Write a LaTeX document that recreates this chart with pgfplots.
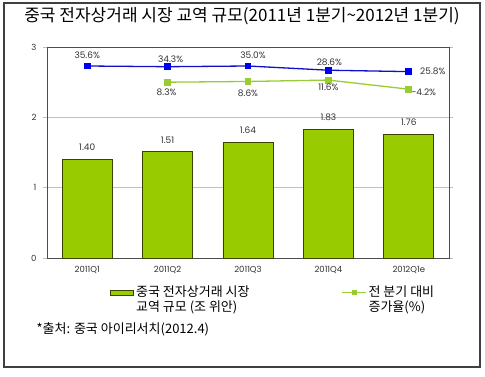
\documentclass[border=0pt]{standalone}
\usepackage{pgfplots}
\pgfplotsset{compat=1.18}
\usepackage{fontspec}
\setmainfont{Noto Sans CJK KR}
\newfontfamily\numfont{Poppins}
\definecolor{barg}{HTML}{99CC00}
\definecolor{bardk}{HTML}{3A4400}
\definecolor{lineb}{HTML}{1010C8}
\definecolor{markb}{HTML}{0000F0}
\definecolor{lineg}{HTML}{99CC33}
\pgfplotsset{
  barleg/.style={legend image code/.code={\draw[##1] (0pt,3.5pt) rectangle (23pt,8.5pt);}},
  lineleg/.style={legend image code/.code={\draw[mark repeat=2,mark phase=2,##1,mark size=2pt,line width=1pt] plot coordinates {(0pt,6pt)(12pt,6pt)(24pt,6pt)};}},
}
\begin{document}
\begin{tikzpicture}[x=1pt,y=1pt]
\useasboundingbox (0,0) rectangle (485,-376);
\draw[line width=1.2pt, black!75] (4,-3) rectangle (480,-367);
\node[font=\fontsize{17}{19}\selectfont] at (242,-16) {중국 전자상거래 시장 교역 규모(2011년 1분기\textasciitilde 2012년 1분기)};
\node[anchor=west, font=\fontsize{13}{15}\selectfont] at (33,-329) {*출처: 중국 아이리서치(2012.4)};
\begin{axis}[
  at={(47pt,-258pt)}, anchor=south west, scale only axis,
  width=402pt, height=211pt,
  xmin=-0.5, xmax=4.5, ymin=0, ymax=3,
  ytick={0,1,2,3}, xtick={0,1,2,3,4},
  xticklabels={2011Q1,2011Q2,2011Q3,2011Q4,2012Q1e},
  ymajorgrids, grid style={black!25, line width=0.6pt},
  axis line style={black!70, line width=0.8pt},
  tick align=outside, major tick length=4pt,
  xtick style={draw=none}, ytick style={black!25, line width=0.6pt},
  /pgf/number format/assume math mode=true,
  ticklabel style={font=\numfont\fontsize{8.5}{10}\selectfont, text=black!80},
  yticklabel style={xshift=-3pt},
  xticklabel style={yshift=-1pt},
  legend columns=2,
  legend cell align=left,
  legend style={at={(0.157,-0.194)}, anchor=west, draw=none, inner sep=0pt,
    font=\fontsize{13}{15}\selectfont,
    cells={align=left},
    /tikz/every even column/.append style={column sep=90pt}},
  nodes near coords style={font=\numfont\fontsize{9}{10}\selectfont, text=black!80},
]
\addplot[ybar, bar width=50pt, fill=barg, draw=bardk, line width=0.8pt,
  nodes near coords, nodes near coords style={anchor=center, yshift=12pt,
    /pgf/number format/.cd, fixed, fixed zerofill, precision=2},
  barleg]
  coordinates {(0,1.40) (1,1.51) (2,1.64) (3,1.83) (4,1.76)};
\addlegendentry{중국 전자상거래 시장\\교역 규모 (조 위안)}
\addplot[lineb, line width=1.3pt, mark=square*, mark size=2.8pt,
  mark options={draw=markb, fill=markb}, forget plot,
  point meta=explicit symbolic,
  visualization depends on={\thisrow{dx}\as\dx},
  visualization depends on={\thisrow{dy}\as\dy},
  nodes near coords={\pgfplotspointmeta\%},
  nodes near coords style={anchor=center, xshift=\dx pt, yshift=\dy pt}]
  table[meta=lab] {
x y lab dx dy
0 2.73 35.6 0 11
1 2.72 34.3 3 7
2 2.73 35.0 5 11
3 2.67 28.6 1 8
4 2.65 25.8 24 0
};
\addplot[lineg, line width=1.3pt, mark=square*, mark size=2.8pt,
  mark options={draw=lineg, fill=lineg},
  point meta=explicit symbolic,
  visualization depends on={\thisrow{dx}\as\dx},
  visualization depends on={\thisrow{dy}\as\dy},
  nodes near coords={\pgfplotspointmeta\%},
  nodes near coords style={anchor=center, xshift=\dx pt, yshift=\dy pt},
  lineleg]
  table[meta=lab] {
x y lab dx dy
1 2.50 8.3 -1 -10
2 2.51 8.6 0 -12
3 2.53 11.6 0 -7
4 2.40 -4.2 15 -3
};
\addlegendentry{전 분기 대비\\증가율(\%)}
\end{axis}
\end{tikzpicture}
\end{document}
